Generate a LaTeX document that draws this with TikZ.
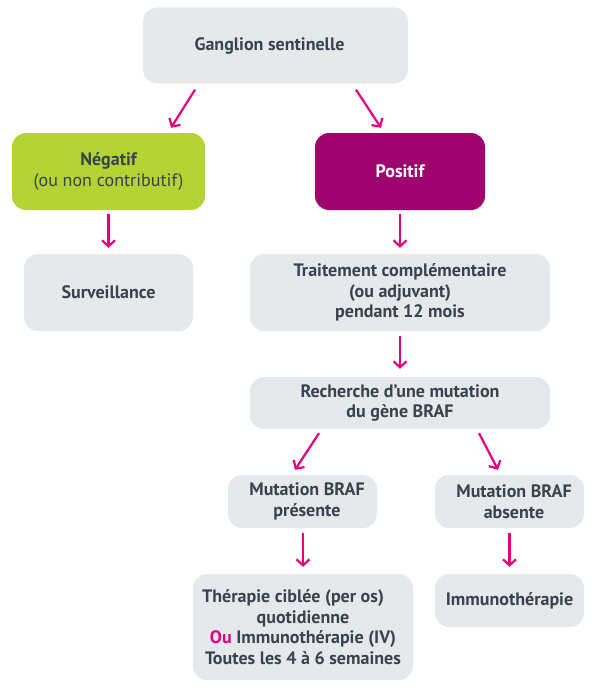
\documentclass[tikz,border=0pt]{standalone}
\usepackage{fontspec}
\setmainfont{PT Sans}
\usetikzlibrary{arrows.meta,calc}
\definecolor{boxgray}{HTML}{E6E9EC}
\definecolor{txtgray}{HTML}{3A424D}
\definecolor{lime}{HTML}{B5D334}
\definecolor{plum}{HTML}{A0056F}
\definecolor{magenta}{HTML}{E5007D}
\tikzset{
  box/.style={rectangle, rounded corners=14pt, fill=boxgray, text=txtgray,
    font=\bfseries\fontsize{18}{20.5}\selectfont, align=center, inner sep=0pt},
  arr/.style={draw=magenta, line width=2.2pt,
    -{Straight Barb[length=6pt,width=13pt,line width=2.2pt]}},
}
\begin{document}
\begin{tikzpicture}[x=1pt,y=-1pt]
\useasboundingbox (0,0) rectangle (596,693);
\node[box, minimum width=265pt, minimum height=76pt] (g) at (275.5,45.5) {Ganglion sentinelle\hspace*{12pt}};
\node[box, fill=lime, minimum width=193pt, minimum height=77pt] (n) at (108.5,171.5) {Négatif\\\mdseries(ou non contributif)};
\node[box, fill=plum, text=white, minimum width=170pt, minimum height=77pt] (p) at (400,171.5) {Positif};
\node[box, minimum width=169pt, minimum height=77pt] (s) at (108.5,292.5) {Surveillance};
\node[box, minimum width=300pt, minimum height=77pt] (t) at (400,292.5) {Traitement complémentaire\\(ou adjuvant)\\pendant 12 mois};
\node[box, minimum width=300pt, minimum height=52pt] (r) at (400,403) {Recherche d’une mutation\\du gène BRAF};
\node[box, minimum width=149pt, minimum height=53pt] (mp) at (302.5,501.5) {\hspace*{9pt}Mutation BRAF\\\hspace*{9pt}présente};
\node[box, minimum width=149pt, minimum height=53pt] (ma) at (509.5,501.5) {\hspace*{9pt}Mutation BRAF\\\hspace*{9pt}absente};
\node[box, minimum width=220pt, minimum height=106pt] (th) at (303,627) {Thérapie ciblée (per os)\hspace*{20pt}\\quotidienne\\\textcolor{magenta}{Ou} Immunothérapie (IV)\\Toutes les 4 à 6 semaines};
\node[box, minimum width=149pt, minimum height=53pt] (im) at (509.5,600.5) {Immunothérapie};
\draw[arr] ($(g.south)+(-80.5,6)$) -- ($(n.north)+(62.5,-5)$);
\draw[arr] ($(g.south)+(80.5,6)$) -- ($(p.north)+(-19,-5)$);
\draw[arr] ($(n.south)+(0,4)$) -- ($(s.north)+(0,-6)$);
\draw[arr] ($(p.south)+(0,4)$) -- ($(t.north)+(0,-6)$);
\draw[arr] ($(t.south)+(0,5)$) -- ($(r.north)+(0,-8)$);
\draw[arr] ($(r.south)+(-81,4)$) -- ($(mp.north)+(-7.5,-5)$);
\draw[arr] ($(r.south)+(79,4)$) -- ($(ma.north)+(-11.5,-5)$);
\draw[arr] ($(mp.south)+(0.5,5)$) -- ($(th.north)+(0,-7)$);
\draw[arr] ($(ma.south)+(0,5)$) -- ($(im.north)+(0,-7)$);
\end{tikzpicture}
\end{document}
